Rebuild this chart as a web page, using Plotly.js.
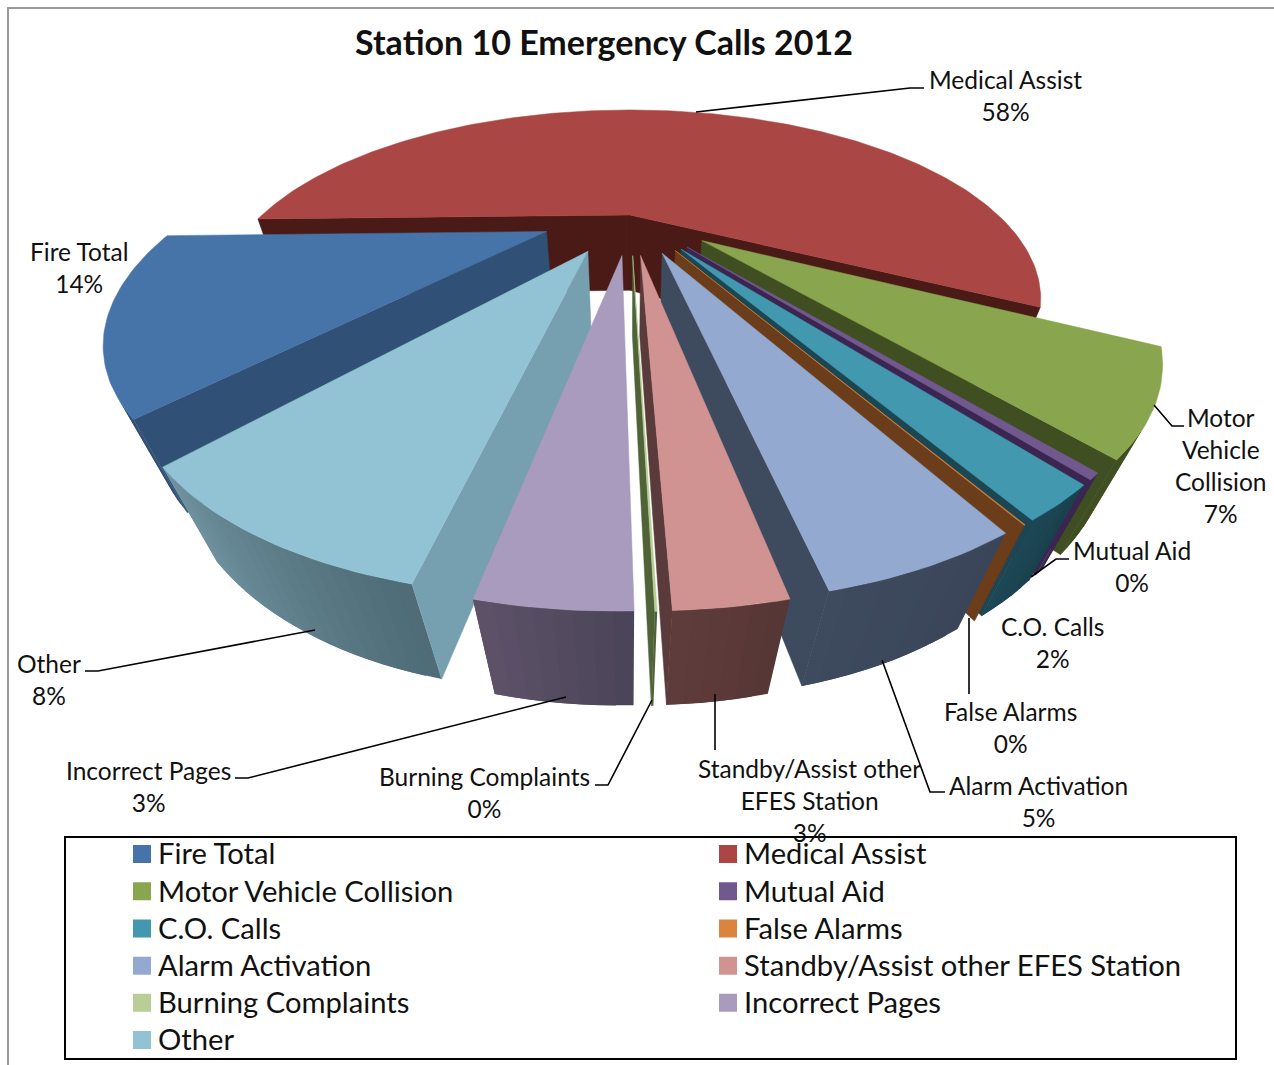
<!DOCTYPE html>
<html><head><meta charset="utf-8">
<script src="https://cdn.plot.ly/plotly-3.0.1.min.js"></script>
<style>html,body{margin:0;padding:0;background:#fff}</style></head>
<body><div id="chart" style="width:1274px;height:1065px"></div>
<script>
// ---- data
const categories = ['Fire Total','Medical Assist','Motor Vehicle Collision','Mutual Aid','C.O. Calls','False Alarms','Alarm Activation','Standby/Assist other EFES Station','Burning Complaints','Incorrect Pages','Other'];
const shares = [13.4,58.35,6.8,0.4,2.15,0.03,4.72,2.5,0.05,3.4,8.2];
const percentLabels = ['14%','58%','7%','0%','2%','0%','5%','3%','0%','3%','8%'];
const explode = [0.24,0,0.24,0.24,0.24,0.24,0.24,0.24,0.24,0.24,0.24];
const radius = [0.97,1,0.98,0.97,0.97,0.97,0.97,0.97,0.97,0.97,0.97];

// ---- styles
const topColors  = ['#4674A9','#AA4643','#89A54E','#71588F','#4198AF','#DB843D','#93A9CF','#D19392','#B9CD96','#A99BBD','#92C3D5'];
const faceColors = ['#315075','#4A1A16','#3F4F22','#3A2650','#1C4652','#6B3D1A','#3E4A5E','#5A3A3A','#4F6238','#5A4F68','#769FB0'];
const wallLeft   = ['#315075','#4A1A16','#3F4F22','#3A2650','#1E4856','#6B3D1A','#3E4A5E','#5F3C3B','#4F6238','#5E5269','#6F939F'];
const wallRight  = ['#315075','#4A1A16','#3F4F22','#3A2650','#1A3F4C','#6B3D1A','#3A4559','#563636','#4F6238','#4A4458','#4E6B76'];
const drawOrder = [1,0,2,3,4,5,6,10,9,7,8];
const rotationStart = 220.3; // angle (clockwise from the back) where Fire Total starts

// ---- perspective of the tilted pie, in axis units
const cx=630, cy=215, a=368, k=151.7, p=0.444, q=0.076, H=81;
const rad=d=>d*Math.PI/180;
function planePt(t,r,ox,oy){ return [r*Math.sin(rad(t))+ox, -r*Math.cos(rad(t))+oy]; }
function topP(X,Y){ const w=1-p*Y; return [cx+a*X/w, cy+k*Y/w]; }
function botP(X,Y){ const w=1-p*Y+q; return [cx+a*X/w, cy+(k*Y+H)/w]; }
function hexMix(c1,c2,f){
  const n=c=>[1,3,5].map(i=>parseInt(c.substr(i,2),16));
  const A=n(c1),B=n(c2);
  return 'rgb('+A.map((v,i)=>Math.round(v+(B[i]-v)*f)).join(',')+')';
}
function area(P){ let s=0; P.forEach((pt,i)=>{const n=P[(i+1)%P.length]; s+=pt[0]*n[1]-n[0]*pt[1];}); return s; }
function poly(P,color,lw){
  const xs=P.map(v=>v[0]).concat(P[0][0]), ys=P.map(v=>v[1]).concat(P[0][1]);
  return {type:'scatter',mode:'lines',x:xs,y:ys,fill:'toself',fillcolor:color,
          line:{color:color,width:lw},hoverinfo:'skip',showlegend:false};
}

const total=shares.reduce((s,v)=>s+v,0);
let acc=rotationStart; const startA=[],endA=[];
shares.forEach((v,i)=>{startA[i]=acc; acc+=v/total*360; endA[i]=acc;});

const traces=[];
drawOrder.forEach(i=>{
  const t0=startA[i], t1=endA[i], mid=(t0+t1)/2, e=explode[i], r=radius[i];
  const ox=e*Math.sin(rad(mid)), oy=-e*Math.cos(rad(mid));
  // outer wall: later bands overlap earlier ones, so no seams show
  const steps=Math.max(1,Math.round((t1-t0)/1.5));
  for(let s=0;s<steps;s++){
    const u=t0+(t1-t0)*s/steps, v=t0+(t1-t0)*Math.min(s+2,steps)/steps;
    const A=planePt(u,r,ox,oy),B=planePt(v,r,ox,oy);
    const Q=[topP(...A),topP(...B),botP(...B),botP(...A)];
    if(area(Q)<0) traces.push(poly(Q,hexMix(wallRight[i],wallLeft[i],(s+0.5)/steps),0));
  }
  // cut faces
  const ap=[ox,oy], S=planePt(t0,r,ox,oy), E=planePt(t1,r,ox,oy);
  const fs=[topP(...ap),topP(...S),botP(...S),botP(...ap)];
  const fe=[topP(...ap),topP(...E),botP(...E),botP(...ap)];
  if(area(fs)<0) traces.push(poly(fs,faceColors[i],0.5));
  if(area(fe)>0) traces.push(poly(fe,faceColors[i],0.5));
  // top
  const n=Math.max(2,Math.round(t1-t0));
  const T=[topP(...ap)];
  for(let s=0;s<=n;s++) T.push(topP(...planePt(t0+(t1-t0)*s/n,r,ox,oy)));
  traces.push(poly(T,topColors[i],0.5));
});
// legend entries
categories.forEach((c,i)=>traces.push({type:'scatter',mode:'markers',x:[null],y:[null],
  name:'<span style="font-size:29.2px">'+c+'</span>',
  marker:{symbol:'square',size:18,color:topColors[i]},hoverinfo:'skip',showlegend:true}));

// ---- labels and leader lines
const F='Lato, Carlito, sans-serif';
const labelText = categories.map((c,i)=>c+'<br>'+percentLabels[i]);
labelText[2]='Motor<br>Vehicle<br>Collision<br>'+percentLabels[2];
labelText[7]='Standby/Assist other<br>EFES Station<br>'+percentLabels[7];
const labelPos=[[79,267],[1005,95.5],[1221,465],[1132,566],[1052,642],[1010,727],[1038,801],[809,800],[484,792],[148,786],[49,679]];
const leaders=[
 'M696,112 L910,88 L924,88',
 'M1154,405 L1172,426 L1184,426',
 'M1031,577 L1056,559 L1069,559',
 'M969,618 L969,694',
 'M882,660 L930,792 L945,792',
 'M715,694 L715,750',
 'M652,700 L608,785 L595,785',
 'M566,697 L248,778 L235,778',
 'M315,630 L98,671 L85,671'
];
const annotations=labelText.map((t,i)=>({xref:'x',yref:'y',x:labelPos[i][0],y:labelPos[i][1],text:t,showarrow:false,
  xanchor:'center',yanchor:'middle',align:'center',font:{family:F,size:24.5,color:'#111'}}));

const shapes=leaders.map(d=>({type:'path',xref:'x',yref:'y',path:d,line:{color:'#000',width:1.6}}));
shapes.push({type:'path',xref:'x',yref:'y',path:'M8,1065 L8,8 L1274,8',line:{color:'#9a9a9a',width:2}});
shapes.push({type:'rect',xref:'x',yref:'y',x0:65,x1:1236,y0:837,y1:1059,line:{color:'#000',width:2}});

Plotly.newPlot('chart',traces,{
  width:1274,height:1065,margin:{l:0,r:0,t:0,b:0,pad:0,autoexpand:false},
  paper_bgcolor:'#fff',plot_bgcolor:'#fff',
  xaxis:{range:[0,1274],visible:false,fixedrange:true},
  yaxis:{range:[1065,0],visible:false,fixedrange:true},
  title:{text:'<b>Station 10 Emergency Calls 2012</b>',x:604/1274,xanchor:'center',y:1-43/1065,yanchor:'middle',font:{family:F,size:34,color:'#111'}},
  showlegend:true,
  legend:{orientation:'h',x:122/1274,xanchor:'left',y:1-830.5/1065,yanchor:'top',traceorder:'normal',
    entrywidth:541,entrywidthmode:'pixels',itemwidth:30,itemsizing:'trace',bgcolor:'rgba(0,0,0,0)',
    font:{family:F,size:26.3,color:'#111'},itemclick:false,itemdoubleclick:false},
  annotations,shapes
},{displayModeBar:false,staticPlot:true}).then(()=>{
  // the swatch sits closer to its text in the reference, and is a little larger
  document.querySelectorAll('#chart .legend .legendtext').forEach(t=>{
    t.setAttribute('x',parseFloat(t.getAttribute('x'))-4);
  });
  document.querySelectorAll('#chart .legend .legendpoints path').forEach(m=>{
    m.setAttribute('transform',(m.getAttribute('transform')||'')+' scale(1.125)');
  });
});
</script></body></html>
